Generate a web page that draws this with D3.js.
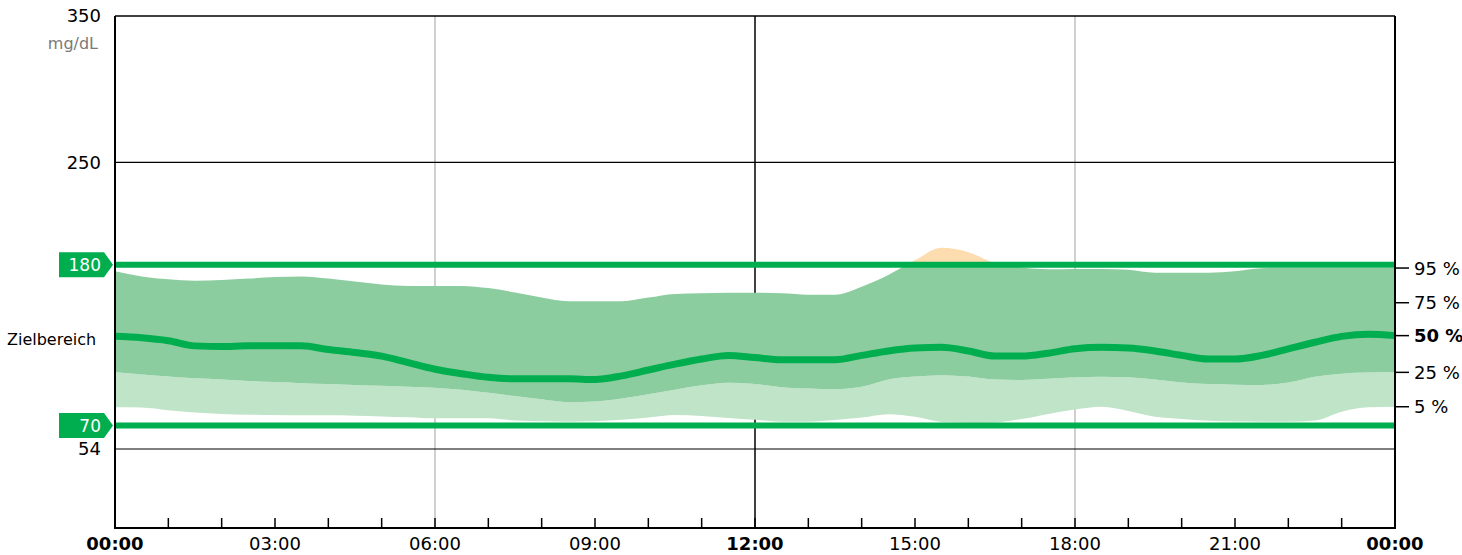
<!DOCTYPE html>
<html>
<head>
<meta charset="utf-8">
<script src="https://cdn.jsdelivr.net/npm/d3@7"></script>
<style>
  html, body { margin: 0; padding: 0; background: #fff; }
  svg { display: block; font-family: "DejaVu Sans", sans-serif; }
</style>
</head>
<body>
<svg id="chart" width="1462" height="555"></svg>
<script>
// ---- data (half-hour steps, 00:00 .. 24:00) ----
const hours = d3.range(0, 24.01, 0.5);
const p95 = [175.5,172,170,169,169.5,170.5,171.5,172,170.5,168.5,166.5,165.5,165.5,165.5,164,161,157.5,155,155,155,157.5,160,160.5,160.8,160.8,160.5,159.5,159.5,165,173,183,191.5,188.5,181,178,176.8,177,177,176.5,174.5,174.5,174.5,175.5,177.5,177.8,177.8,177.8,177.8,177.7];
const p75 = [154,153,151,149,148,148,148,148,147,146,144,142,140,138,136,134,132,131,131,131,132,134,136,138,138,137,137,137,140,143,146,148,147,145,144,145,146,147,147,146,144,143,143,144,146,149,151,153,154];
const p50 = [131,130,128,124.5,124,124.5,124.5,124.5,122,120,117.5,113,108.5,105.5,103,102,102,102,101.5,104,108,112,115.5,118,116.5,115,115,115,118,121,123,123.5,121,117.5,117.5,119.5,122.5,123.5,123,121,118,115.5,115.5,118,122.5,127,131,132.5,131.5];
const p25 = [106.4,105,103.5,102.3,101.5,100.5,99.8,99,98.4,97.8,97.2,96.6,95.9,94.5,92.5,90.2,88,86,86.5,88.5,91.5,94.5,97.5,99.3,98.5,96.3,95.3,94.8,96.5,101.5,103.5,104.5,103.5,101.5,101.2,102,103,103.4,103,101.5,99.5,98.4,98,97.7,99.5,103.4,105.5,106.3,106.4];
const p5  = [82.5,82.3,80.5,79,78,77.5,77.2,77,77,76.8,76.3,75.7,75,75,75,73.5,73,72.7,73,74,75.5,77.2,76.5,75.2,74,72.7,72.7,73.8,75.5,77.8,76,72.5,72,72.2,74.5,78,81,82.9,80,76,74.5,73.3,72.8,72.7,72.7,73.5,79.5,82.5,82.9];

const targetRange = [70, 180];
const yTicks = [54, 250, 350];
const xTickHours = d3.range(0, 25, 1);
const xLabelHours = [0, 3, 6, 9, 12, 15, 18, 21, 24];
const xLabels = ["00:00","03:00","06:00","09:00","12:00","15:00","18:00","21:00","00:00"];
const pctLabels = ["95 %", "75 %", "50 %", "25 %", "5 %"];
const unitLabel = "mg/dL";
const rangeLabel = "Zielbereich";

// ---- layout ----
const L = 115, R = 1395, T = 16, B = 528;
const svg = d3.select("#chart");
const x = d3.scaleLinear().domain([0, 24]).range([L, R]);
const y = d3.scaleLinear().domain([0, 350]).range([B, T]);

const darkFill = "#8ccd9f", lightFill = "#c0e4c8", green = "#00ae50", orange = "#fddcb0";

const rows = hours.map((h, i) => ({h, p5: p5[i], p25: p25[i], p50: p50[i], p75: p75[i], p95: p95[i]}));
const curve = d3.curveMonotoneX;
const band = (lo, hi) => d3.area().curve(curve).x(d => x(d.h)).y0(d => y(d[lo])).y1(d => y(d[hi]));

const defs = svg.append("defs");
defs.append("clipPath").attr("id", "above").append("rect")
  .attr("x", L).attr("y", T).attr("width", R - L).attr("height", y(targetRange[1]) - T);
defs.append("clipPath").attr("id", "below").append("rect")
  .attr("x", L).attr("y", y(targetRange[1])).attr("width", R - L).attr("height", B - y(targetRange[1]));

// grid lines (behind bands)
svg.append("g").selectAll("line").data([6, 18]).join("line")
  .attr("x1", d => x(d)).attr("x2", d => x(d)).attr("y1", T).attr("y2", B)
  .attr("stroke", "#b0b0b0").attr("stroke-width", 1.2);
svg.append("line").attr("x1", x(12)).attr("x2", x(12)).attr("y1", T).attr("y2", B)
  .attr("stroke", "#000").attr("stroke-width", 1.5);
svg.append("g").selectAll("line").data([250, 54]).join("line")
  .attr("x1", L).attr("x2", R).attr("y1", d => y(d)).attr("y2", d => y(d))
  .attr("stroke", "#000").attr("stroke-width", 1.2);

// bands: 5-25 light, 25-95 dark (the 75-95 band shares the 25-75 colour), orange above target
svg.append("path").datum(rows).attr("d", band("p5", "p25")).attr("fill", lightFill);
svg.append("path").datum(rows).attr("d", band("p25", "p95")).attr("fill", darkFill).attr("clip-path", "url(#below)");
svg.append("path").datum(rows).attr("d", band("p25", "p95")).attr("fill", orange).attr("clip-path", "url(#above)");

// median
svg.append("path").datum(rows)
  .attr("d", d3.line().curve(curve).x(d => x(d.h)).y(d => y(d.p50)))
  .attr("fill", "none").attr("stroke", green).attr("stroke-width", 7);

// target lines
svg.append("g").selectAll("line").data(targetRange).join("line")
  .attr("x1", L).attr("x2", R).attr("y1", d => y(d)).attr("y2", d => y(d))
  .attr("stroke", green).attr("stroke-width", 6);

// frame
svg.append("line").attr("x1", L).attr("x2", R).attr("y1", T).attr("y2", T).attr("stroke", "#000").attr("stroke-width", 1.5);
svg.append("line").attr("x1", L).attr("x2", R).attr("y1", B).attr("y2", B).attr("stroke", "#000").attr("stroke-width", 2);
svg.append("line").attr("x1", L).attr("x2", L).attr("y1", T).attr("y2", B + 1).attr("stroke", "#000").attr("stroke-width", 2);
svg.append("line").attr("x1", R).attr("x2", R).attr("y1", T).attr("y2", B + 1).attr("stroke", "#000").attr("stroke-width", 2);

// hour ticks
svg.append("g").selectAll("line").data(xTickHours).join("line")
  .attr("x1", d => x(d)).attr("x2", d => x(d)).attr("y1", B).attr("y2", B - 10)
  .attr("stroke", "#000").attr("stroke-width", 1.5);

// x labels
svg.append("g").selectAll("text").data(xLabelHours).join("text")
  .attr("x", d => x(d)).attr("y", 550).attr("text-anchor", "middle")
  .attr("font-size", 18)
  .attr("font-weight", d => (d % 12 === 0 ? "bold" : "normal"))
  .attr("fill", "#000")
  .text((d, i) => xLabels[i]);

// y labels
svg.append("g").selectAll("text").data(yTicks).join("text")
  .attr("x", 101).attr("y", d => y(d)).attr("dy", "0.36em")
  .attr("text-anchor", "end").attr("font-size", 18).attr("fill", "#000")
  .text(d => d);
svg.append("text").attr("x", 98).attr("y", 43).attr("dy", "0.36em").attr("text-anchor", "end")
  .attr("font-size", 16).attr("fill", "#7a7a7a").text(unitLabel);
svg.append("text").attr("x", 7).attr("y", 339).attr("dy", "0.36em")
  .attr("font-size", 16).attr("fill", "#000").text(rangeLabel);

// target labels
const tg = svg.append("g").selectAll("g").data(targetRange).join("g")
  .attr("transform", d => `translate(0,${y(d)})`);
tg.append("path").attr("d", "M59,-12.5 L104,-12.5 L113,0 L104,12.5 L59,12.5 Z").attr("fill", green);
tg.append("text").attr("x", 101).attr("y", 0).attr("dy", "0.36em").attr("text-anchor", "end")
  .attr("font-size", 17).attr("fill", "#fff").text(d => d);

// percentile labels on the right
const last = rows[rows.length - 1];
const pctVals = [last.p95, last.p75, last.p50, last.p25, last.p5];
const pg = svg.append("g").selectAll("g").data(pctLabels).join("g")
  .attr("transform", (d, i) => `translate(0,${y(pctVals[i])})`);
pg.append("line").attr("x1", R).attr("x2", R + 14).attr("stroke", "#000").attr("stroke-width", 1.5);
pg.append("text").attr("x", R + 19).attr("dy", "0.36em").attr("font-size", 18)
  .attr("font-weight", (d, i) => (i === 2 ? "bold" : "normal")).attr("fill", "#000").text(d => d);
</script>
</body>
</html>
